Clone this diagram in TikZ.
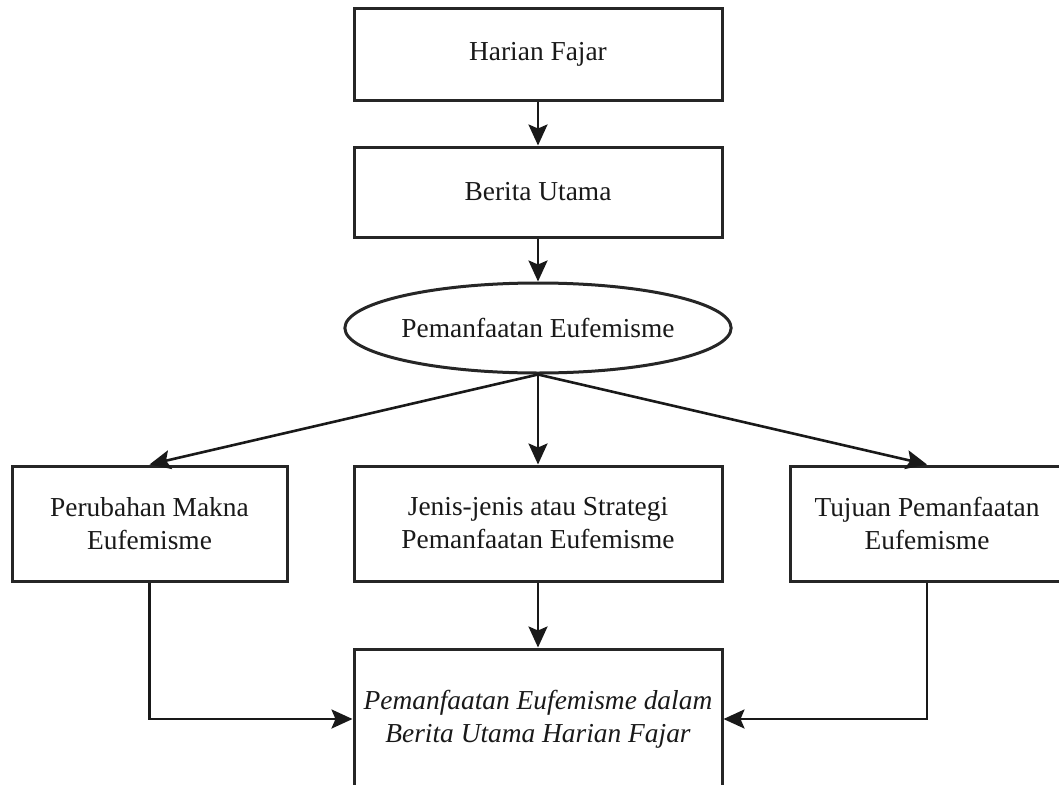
\documentclass[tikz,border=0pt]{standalone}
\usepackage{fontspec}
\setmainfont{Liberation Serif}
\usetikzlibrary{shapes.geometric,arrows.meta}
\begin{document}
\begin{tikzpicture}[x=1pt,y=-1pt,
  every node/.style={font=\fontsize{27.4}{33}\selectfont, text=black!90, align=center, inner sep=0pt},
  box/.style={draw=black!85, line width=3pt, rectangle},
  ell/.style={draw=black!85, line width=3pt, ellipse},
  conn/.style={draw=black!90, line width=2.6pt, -{Stealth[length=21pt,width=19pt,inset=4pt]}}
]
\useasboundingbox (0,0) rectangle (1059,784);
\clip (0,0) rectangle (1059,784);
\fill[white] (0,0) rectangle (1059,784);
\node[box, minimum width=368pt, minimum height=91pt] (top) at (538,54.5) {Harian Fajar};
\node[box, minimum width=368pt, minimum height=90pt] (ber) at (538,192) {Berita Utama};
\node[ell, minimum width=368pt, minimum height=90pt] (pem) at (538,328) {Pemanfaatan Eufemisme};
\node[box, minimum width=275pt, minimum height=115pt] (left) at (149.5,523.5) {Perubahan Makna\\Eufemisme};
\node[box, minimum width=368pt, minimum height=115pt] (mid) at (538,523.5) {Jenis-jenis atau Strategi\\Pemanfaatan Eufemisme};
\node[box, minimum width=274pt, minimum height=115pt] (right) at (927,523.5) {Tujuan Pemanfaatan\\Eufemisme};
\node[box, minimum width=368pt, minimum height=140pt] (bot) at (538,719) {\itshape Pemanfaatan Eufemisme dalam\\\itshape Berita Utama Harian Fajar};
\draw[conn] (top) -- (ber);
\draw[conn] (ber) -- (pem);
\draw[conn] (pem.south) -- (left.north);
\draw[conn] (pem.south) -- (mid.north);
\draw[conn] (pem.south) -- (right.north);
\draw[conn] (mid) -- (bot);
\draw[conn] (left.south) |- (bot.west);
\draw[conn] (right.south) |- (bot.east);
\end{tikzpicture}
\end{document}
